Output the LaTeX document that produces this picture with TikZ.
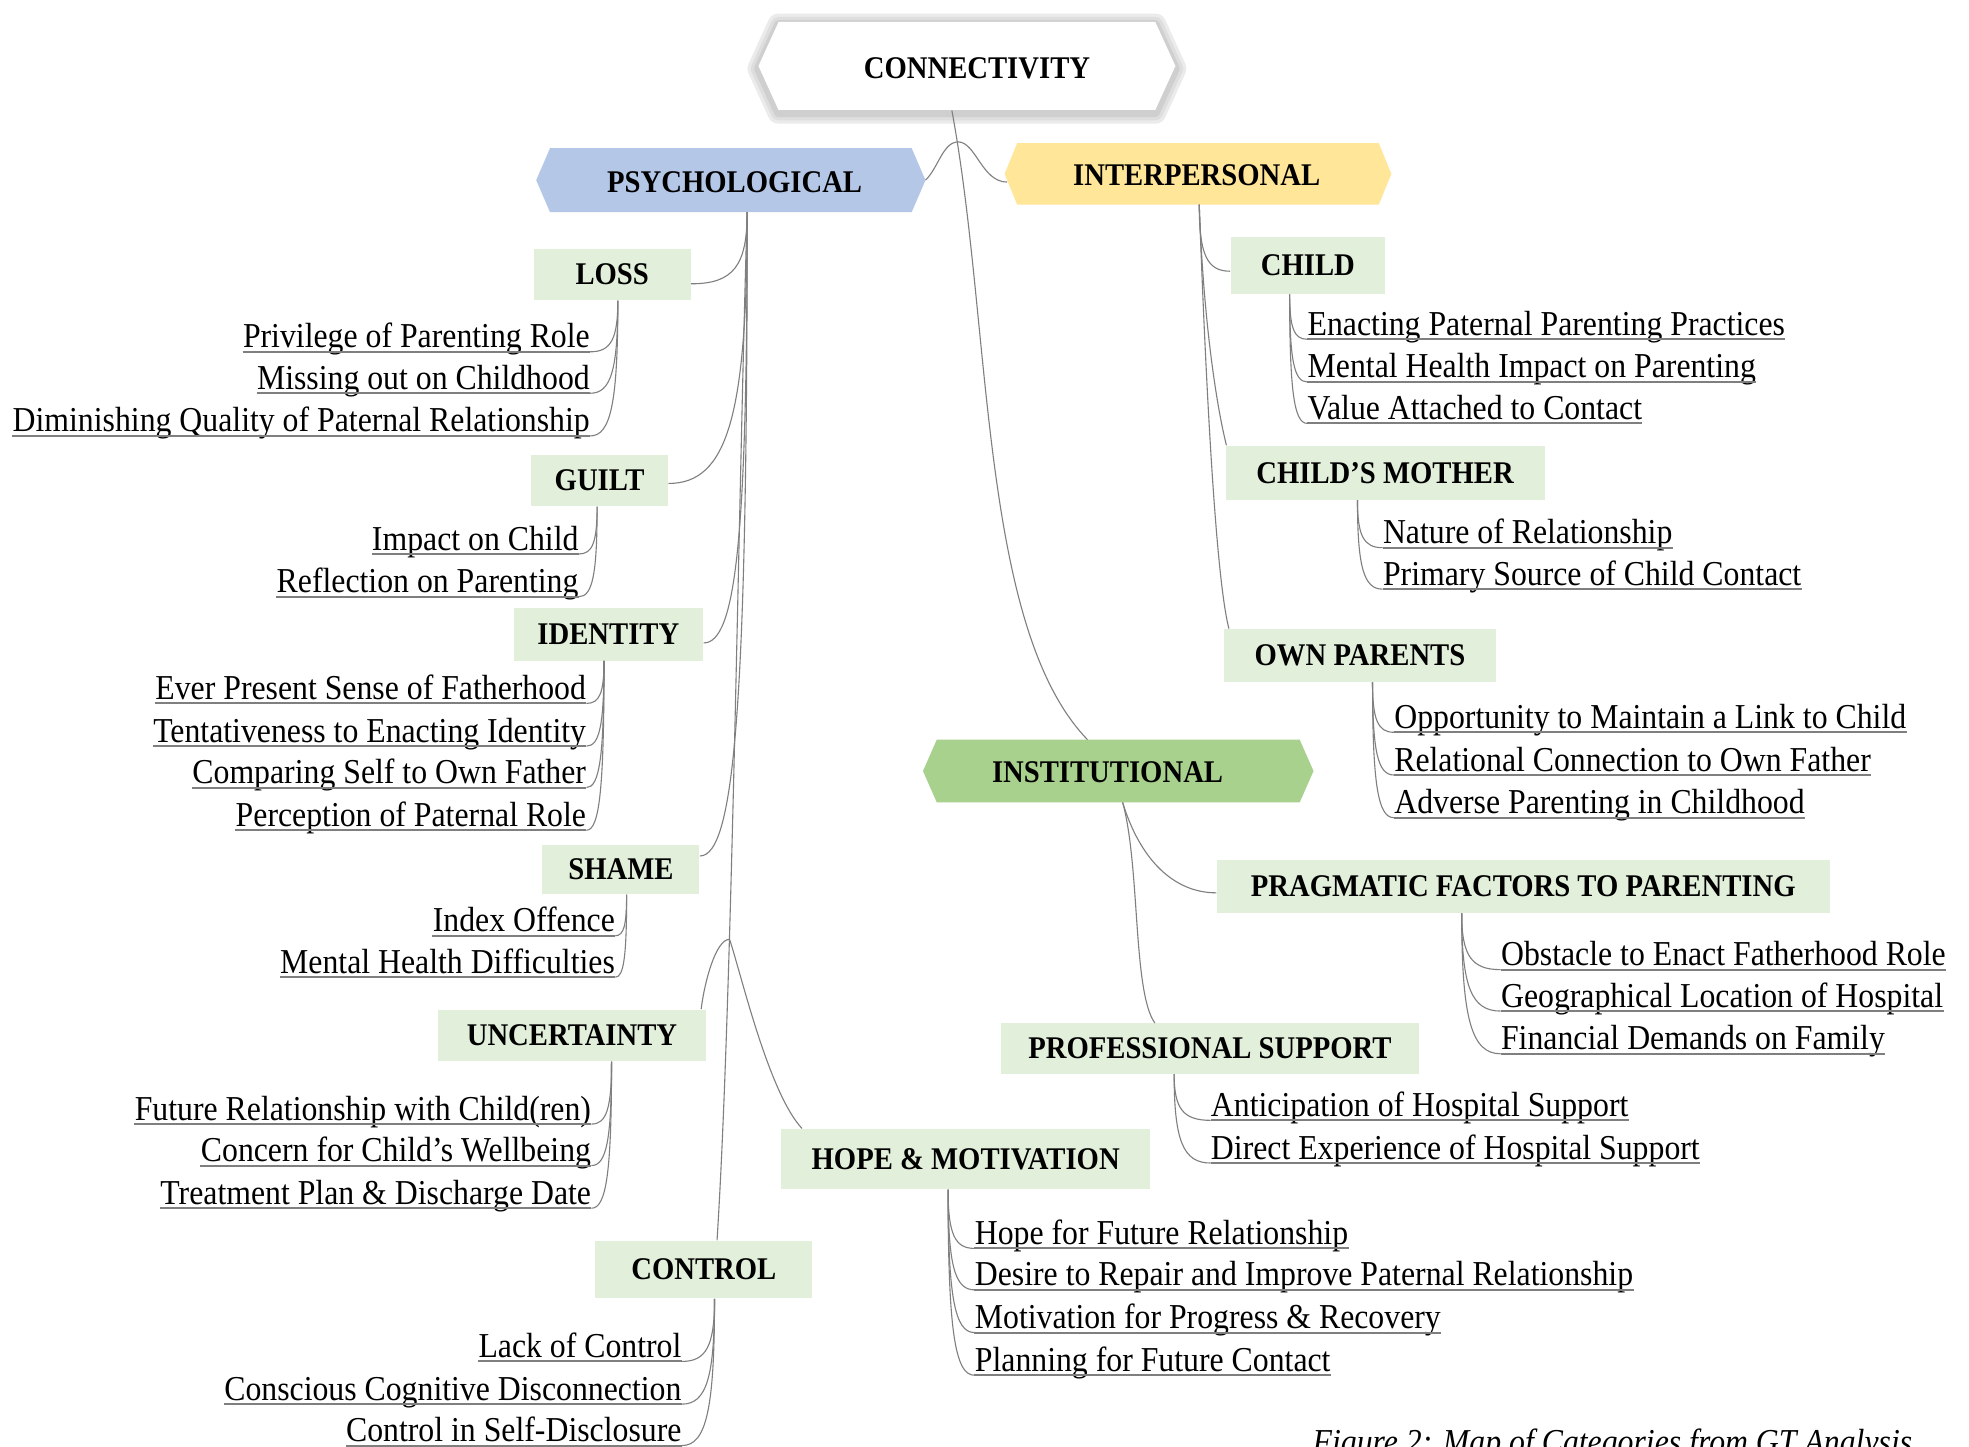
\documentclass[tikz,border=0pt]{standalone}
\usepackage{fontspec}
\setmainfont{Liberation Serif}
\usetikzlibrary{calc}
\definecolor{psyblue}{HTML}{B4C7E7}
\definecolor{intyellow}{HTML}{FFE699}
\definecolor{instgreen}{HTML}{A9D18E}
\definecolor{boxgreen}{HTML}{E2EFDA}
\definecolor{linegray}{HTML}{7F7F7F}
\newcommand\vs[1]{\scalebox{1}[1.1]{#1}}
\tikzset{
  gbox/.style={fill=boxgreen, inner sep=0pt, font=\fontsize{13}{15}\selectfont\bfseries, text height=9.4pt, text depth=0pt},
  hexlabel/.style={inner sep=0pt, font=\fontsize{13}{15}\selectfont\bfseries, text height=9.4pt, text depth=0pt},
  item/.style={inner sep=0pt, font=\fontsize{14.4}{17}\selectfont},
  caption/.style={inner sep=0pt, font=\fontsize{14.4}{17}\selectfont\itshape},
  uline/.style={draw=linegray, line width=0.9pt},
  conn/.style={draw=linegray, line width=0.5pt},
}
% hexagon outline: style, x0, x1, y0, y1, indent
\newcommand\hexa[6]{\path[#1] (#2,{(#4+#5)/2}) -- ({#2+#6},#4) -- ({#3-#6},#4) -- (#3,{(#4+#5)/2}) -- ({#3-#6},#5) -- ({#2+#6},#5) -- cycle;}
% green box: name, cx, cy, width, height, text
\newcommand\gb[6]{\node[gbox, minimum width=#4*0.02cm, minimum height=#5*0.02cm] (#1) at (#2,#3) {\vs{#6}};}
% left item (right aligned)
\newcommand\litem[4]{%
  \node[item, anchor=base east] (#1) at (#2,#3) {\vs{#4}};
  \coordinate (#1u) at ([yshift=-1.8pt]#1.base east);
  \draw[uline] ([yshift=-1.8pt]#1.base west) -- (#1u);}
% right item (left aligned)
\newcommand\ritem[4]{%
  \node[item, anchor=base west] (#1) at (#2,#3) {\vs{#4}};
  \coordinate (#1u) at ([yshift=-1.8pt]#1.base west);
  \draw[uline] (#1u) -- ([yshift=-1.8pt]#1.base east);}
% elbow connector
\newcommand\elbow[3][0.75]{\draw[conn] (#2) .. controls ($(#2)!#1!(#2|-#3)$) and ($(#3)!#1!(#2|-#3)$) .. (#3);}
\begin{document}
\begin{tikzpicture}[x=0.02cm, y=-0.02cm]
\path[use as bounding box, clip] (0,0) rectangle (1568,1152);
\fill[white] (0,0) rectangle (1568,1152);
% hexagons
\begin{scope}[yshift=-1.2pt]
\hexa{draw=black!8, line width=10pt, line join=round}{604}{936}{17.5}{87.6}{16}
\hexa{draw=black!13, line width=7pt, line join=round}{604}{936}{17.5}{87.6}{16}
\hexa{draw=black!19, line width=4pt, line join=round}{604}{936}{17.5}{87.6}{16}
\end{scope}
\hexa{fill=white}{604}{936}{17.5}{87.6}{16}
\hexa{fill=psyblue}{427}{737}{118}{169}{11}
\hexa{fill=intyellow}{800}{1108}{114}{163}{10}
\hexa{fill=instgreen}{735}{1046}{589}{639}{11}
\node[hexlabel] (conn) at (778,54.5) {\vs{CONNECTIVITY}};
\node[hexlabel] (psy) at (585,145) {\vs{PSYCHOLOGICAL}};
\node[hexlabel] (int) at (953,139.5) {\vs{INTERPERSONAL}};
\node[hexlabel] (inst) at (882,615) {\vs{INSTITUTIONAL}};
% green boxes
\gb{loss}{487.5}{218.5}{125}{41}{LOSS}
\gb{guilt}{477.5}{382.5}{109}{41}{GUILT}
\gb{ident}{484.5}{505}{151}{42}{IDENTITY}
\gb{shame}{494.5}{692.5}{125}{39}{SHAME}
\gb{unc}{455.5}{824.5}{213}{41}{UNCERTAINTY}
\gb{ctrl}{560.5}{1011}{173}{46}{CONTROL}
\gb{child}{1041.5}{211.5}{123}{45}{CHILD}
\gb{cm}{1103}{376.5}{254}{43}{CHILD’S MOTHER}
\gb{op}{1083}{522}{216}{42}{OWN PARENTS}
\gb{prag}{1213}{706}{488}{42}{PRAGMATIC FACTORS TO PARENTING}
\gb{prof}{963.5}{835}{333}{40}{PROFESSIONAL SUPPORT}
\gb{hope}{769}{923}{294}{48}{HOPE \& MOTIVATION}
% items
\litem{la}{470}{277}{Privilege of Parenting Role}
\litem{lb}{470}{310}{Missing out on Childhood}
\litem{lc}{470}{344}{Diminishing Quality of Paternal Relationship}
\litem{ga}{461}{438}{Impact on Child}
\litem{gbb}{461}{472}{Reflection on Parenting}
\litem{ia}{467}{557}{Ever Present Sense of Fatherhood}
\litem{ib}{467}{591}{Tentativeness to Enacting Identity}
\litem{ic}{467}{624}{Comparing Self to Own Father}
\litem{id}{467}{658}{Perception of Paternal Role}
\litem{sa}{490}{742}{Index Offence}
\litem{sb}{490}{775}{Mental Health Difficulties}
\litem{ua}{471}{892}{Future Relationship with Child(ren)}
\litem{ub}{471}{925}{Concern for Child’s Wellbeing}
\litem{uc}{471}{959}{Treatment Plan \& Discharge Date}
\litem{ca}{543}{1081}{Lack of Control}
\litem{cb}{543}{1115}{Conscious Cognitive Disconnection}
\litem{cc}{543}{1148}{Control in Self-Disclosure}
\ritem{cha}{1041}{267}{Enacting Paternal Parenting Practices}
\ritem{chb}{1041}{301}{Mental Health Impact on Parenting}
\ritem{chc}{1041}{334}{Value Attached to Contact}
\ritem{ma}{1101}{433}{Nature of Relationship}
\ritem{mb}{1101}{466}{Primary Source of Child Contact}
\ritem{oa}{1110}{580}{Opportunity to Maintain a Link to Child}
\ritem{ob}{1110}{614}{Relational Connection to Own Father}
\ritem{oc}{1110}{648}{Adverse Parenting in Childhood}
\ritem{pa}{1195}{769}{Obstacle to Enact Fatherhood Role}
\ritem{pb}{1195}{802}{Geographical Location of Hospital}
\ritem{pc}{1195}{836}{Financial Demands on Family}
\ritem{fa}{964}{889}{Anticipation of Hospital Support}
\ritem{fb}{964}{923}{Direct Experience of Hospital Support}
\ritem{ha}{776}{991}{Hope for Future Relationship}
\ritem{hb}{776}{1024}{Desire to Repair and Improve Paternal Relationship}
\ritem{hc}{776}{1058}{Motivation for Progress \& Recovery}
\ritem{hd}{776}{1092}{Planning for Future Contact}
\node[caption, anchor=base west] (cap) at (1045,1157.5) {\vs{Figure 2: Map of Categories from GT Analysis}};
% named connector points
\coordinate (connB) at (758,88);
\coordinate (peak) at (763,113);
\coordinate (psyE) at (737,143.5);
\coordinate (intW) at (802,145);
\coordinate (psyB) at (595,169);
\coordinate (intB) at (955,163);
\coordinate (instT) at (866,589);
\coordinate (instB) at (894,639);
\coordinate (fork) at (581,748);
\coordinate (lossR) at ($(loss.east)+(0,7.5)$);
\coordinate (guiltR) at ($(guilt.east)+(0,2.5)$);
\coordinate (identR) at ($(ident.east)+(0,7)$);
\coordinate (shameR) at ($(shame.north east)+(0,9)$);
\coordinate (uncT) at ($(unc.north east)+(-4,0)$);
\coordinate (hopeT) at ($(hope.north west)+(17,0)$);
\coordinate (ctrlT) at ($(ctrl.north)+(10.5,0)$);
\coordinate (childW) at ($(child.west)+(0,4.5)$);
\coordinate (cmTL) at ($(cm.north west)+(1,0)$);
\coordinate (opTL) at ($(op.north west)+(4,0)$);
\coordinate (pragW) at ($(prag.west)+(0,5)$);
\coordinate (profT) at ($(prof.north west)+(123,0)$);
\coordinate (lossB) at ($(loss.south)+(4.5,0)$);
\coordinate (guiltB) at ($(guilt.south)+(-2,0)$);
\coordinate (identB) at ($(ident.south)+(-3.5,0)$);
\coordinate (shameB) at ($(shame.south)+(4.5,0)$);
\coordinate (uncB) at ($(unc.south)+(31.5,0)$);
\coordinate (ctrlB) at ($(ctrl.south)+(8.5,0)$);
\coordinate (childB) at ($(child.south)+(-14.5,0)$);
\coordinate (cmB) at ($(cm.south)+(-22,0)$);
\coordinate (opB) at ($(op.south)+(10,0)$);
\coordinate (pragB) at ($(prag.south)+(-49,0)$);
\coordinate (profB) at ($(prof.south)+(-28.5,0)$);
\coordinate (hopeB) at ($(hope.south)+(-14,0)$);
% main connectors
\draw[conn] (connB) .. controls (790,260) and (780,500) .. (instT);
\draw[conn] (peak) .. controls (751,113) and (747,134) .. (psyE);
\draw[conn] (peak) .. controls (777,113) and (782,145) .. (intW);
\elbow{psyB}{lossR}
\elbow{psyB}{guiltR}
\elbow{psyB}{identR}
\elbow{psyB}{shameR}
\draw[conn] (psyB) .. controls (588,400) and (583,800) .. (ctrlT);
\draw[conn] (fork) .. controls (570,748) and (561,782) .. (uncT);
\draw[conn] (fork) .. controls (590,775) and (612,870) .. (hopeT);
\elbow{intB}{childW}
\draw[conn] (intB) .. controls (958,250) and (968,320) .. (cmTL);
\draw[conn] (intB) .. controls (960,300) and (968,460) .. (opTL);
\draw[conn] (instB) .. controls (908,685) and (935,711) .. (pragW);
\draw[conn] (instB) .. controls (908,690) and (902,790) .. (profT);
% item connectors
\foreach \p/\c in {lossB/la,lossB/lb,lossB/lc,guiltB/ga,guiltB/gbb,identB/ia,identB/ib,identB/ic,identB/id,shameB/sa,shameB/sb,uncB/ua,uncB/ub,uncB/uc,ctrlB/ca,ctrlB/cb,ctrlB/cc,childB/cha,childB/chb,childB/chc,cmB/ma,cmB/mb,opB/oa,opB/ob,opB/oc,pragB/pa,pragB/pb,pragB/pc,profB/fa,profB/fb,hopeB/ha,hopeB/hb,hopeB/hc,hopeB/hd}{\elbow{\p}{\c u}}
\end{tikzpicture}
\end{document}
